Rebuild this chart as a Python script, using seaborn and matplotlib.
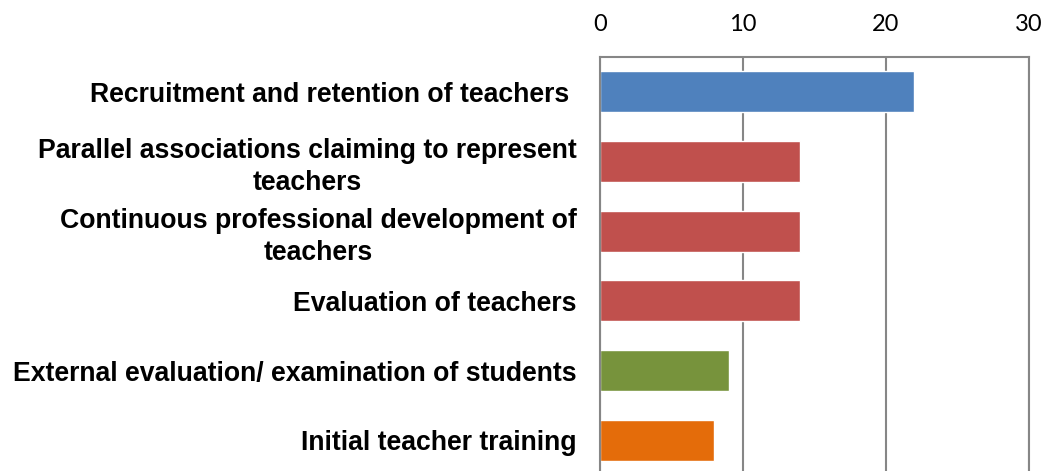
import matplotlib
matplotlib.use("Agg")
import matplotlib.pyplot as plt
import seaborn as sns

categories = [
    "Recruitment and retention of teachers ",
    "Parallel associations claiming to represent\nteachers",
    "Continuous professional development of\nteachers",
    "Evaluation of teachers",
    "External evaluation/ examination of students",
    "Initial teacher training",
]
values = [22, 14, 14, 14, 9, 8]
colors = ["#4F81BD", "#C0504D", "#C0504D", "#C0504D", "#77933C", "#E46C0A"]
x_ticks = [0, 10, 20, 30]

sns.set_theme(style="white")
plt.rcParams["font.family"] = ["Liberation Sans", "DejaVu Sans"]

fig = plt.figure(figsize=(10.49, 4.71), dpi=100)
ax = fig.add_axes([0.572, -0.0085, 0.4085, 0.8875])

sns.barplot(x=values, y=categories, hue=categories, palette=colors,
            legend=False, width=0.59, saturation=1, ax=ax)

ax.set_xlim(0, 30)
ax.set_xticks(x_ticks)
ax.xaxis.tick_top()
ax.tick_params(axis="x", length=0, pad=16, labelsize=17)
for lbl in ax.get_xticklabels():
    lbl.set_fontfamily(["Lato", "DejaVu Sans"])
    lbl.set_color("black")
ax.tick_params(axis="y", length=0, pad=17)
for lbl in ax.get_yticklabels():
    lbl.set_fontsize(19.2)
    lbl.set_fontweight("bold")
    lbl.set_multialignment("center")
    lbl.set_linespacing(1.27)
    lbl.set_color("black")

ax.grid(axis="x", color="#868686", linewidth=1.5)
ax.set_axisbelow(True)
for side in ["left", "top", "right"]:
    ax.spines[side].set_visible(True)
    ax.spines[side].set_color("#868686")
    ax.spines[side].set_linewidth(1.5)
ax.spines["bottom"].set_visible(False)
ax.set_xlabel("")
ax.set_ylabel("")

fig.savefig("out.png", dpi=100)
